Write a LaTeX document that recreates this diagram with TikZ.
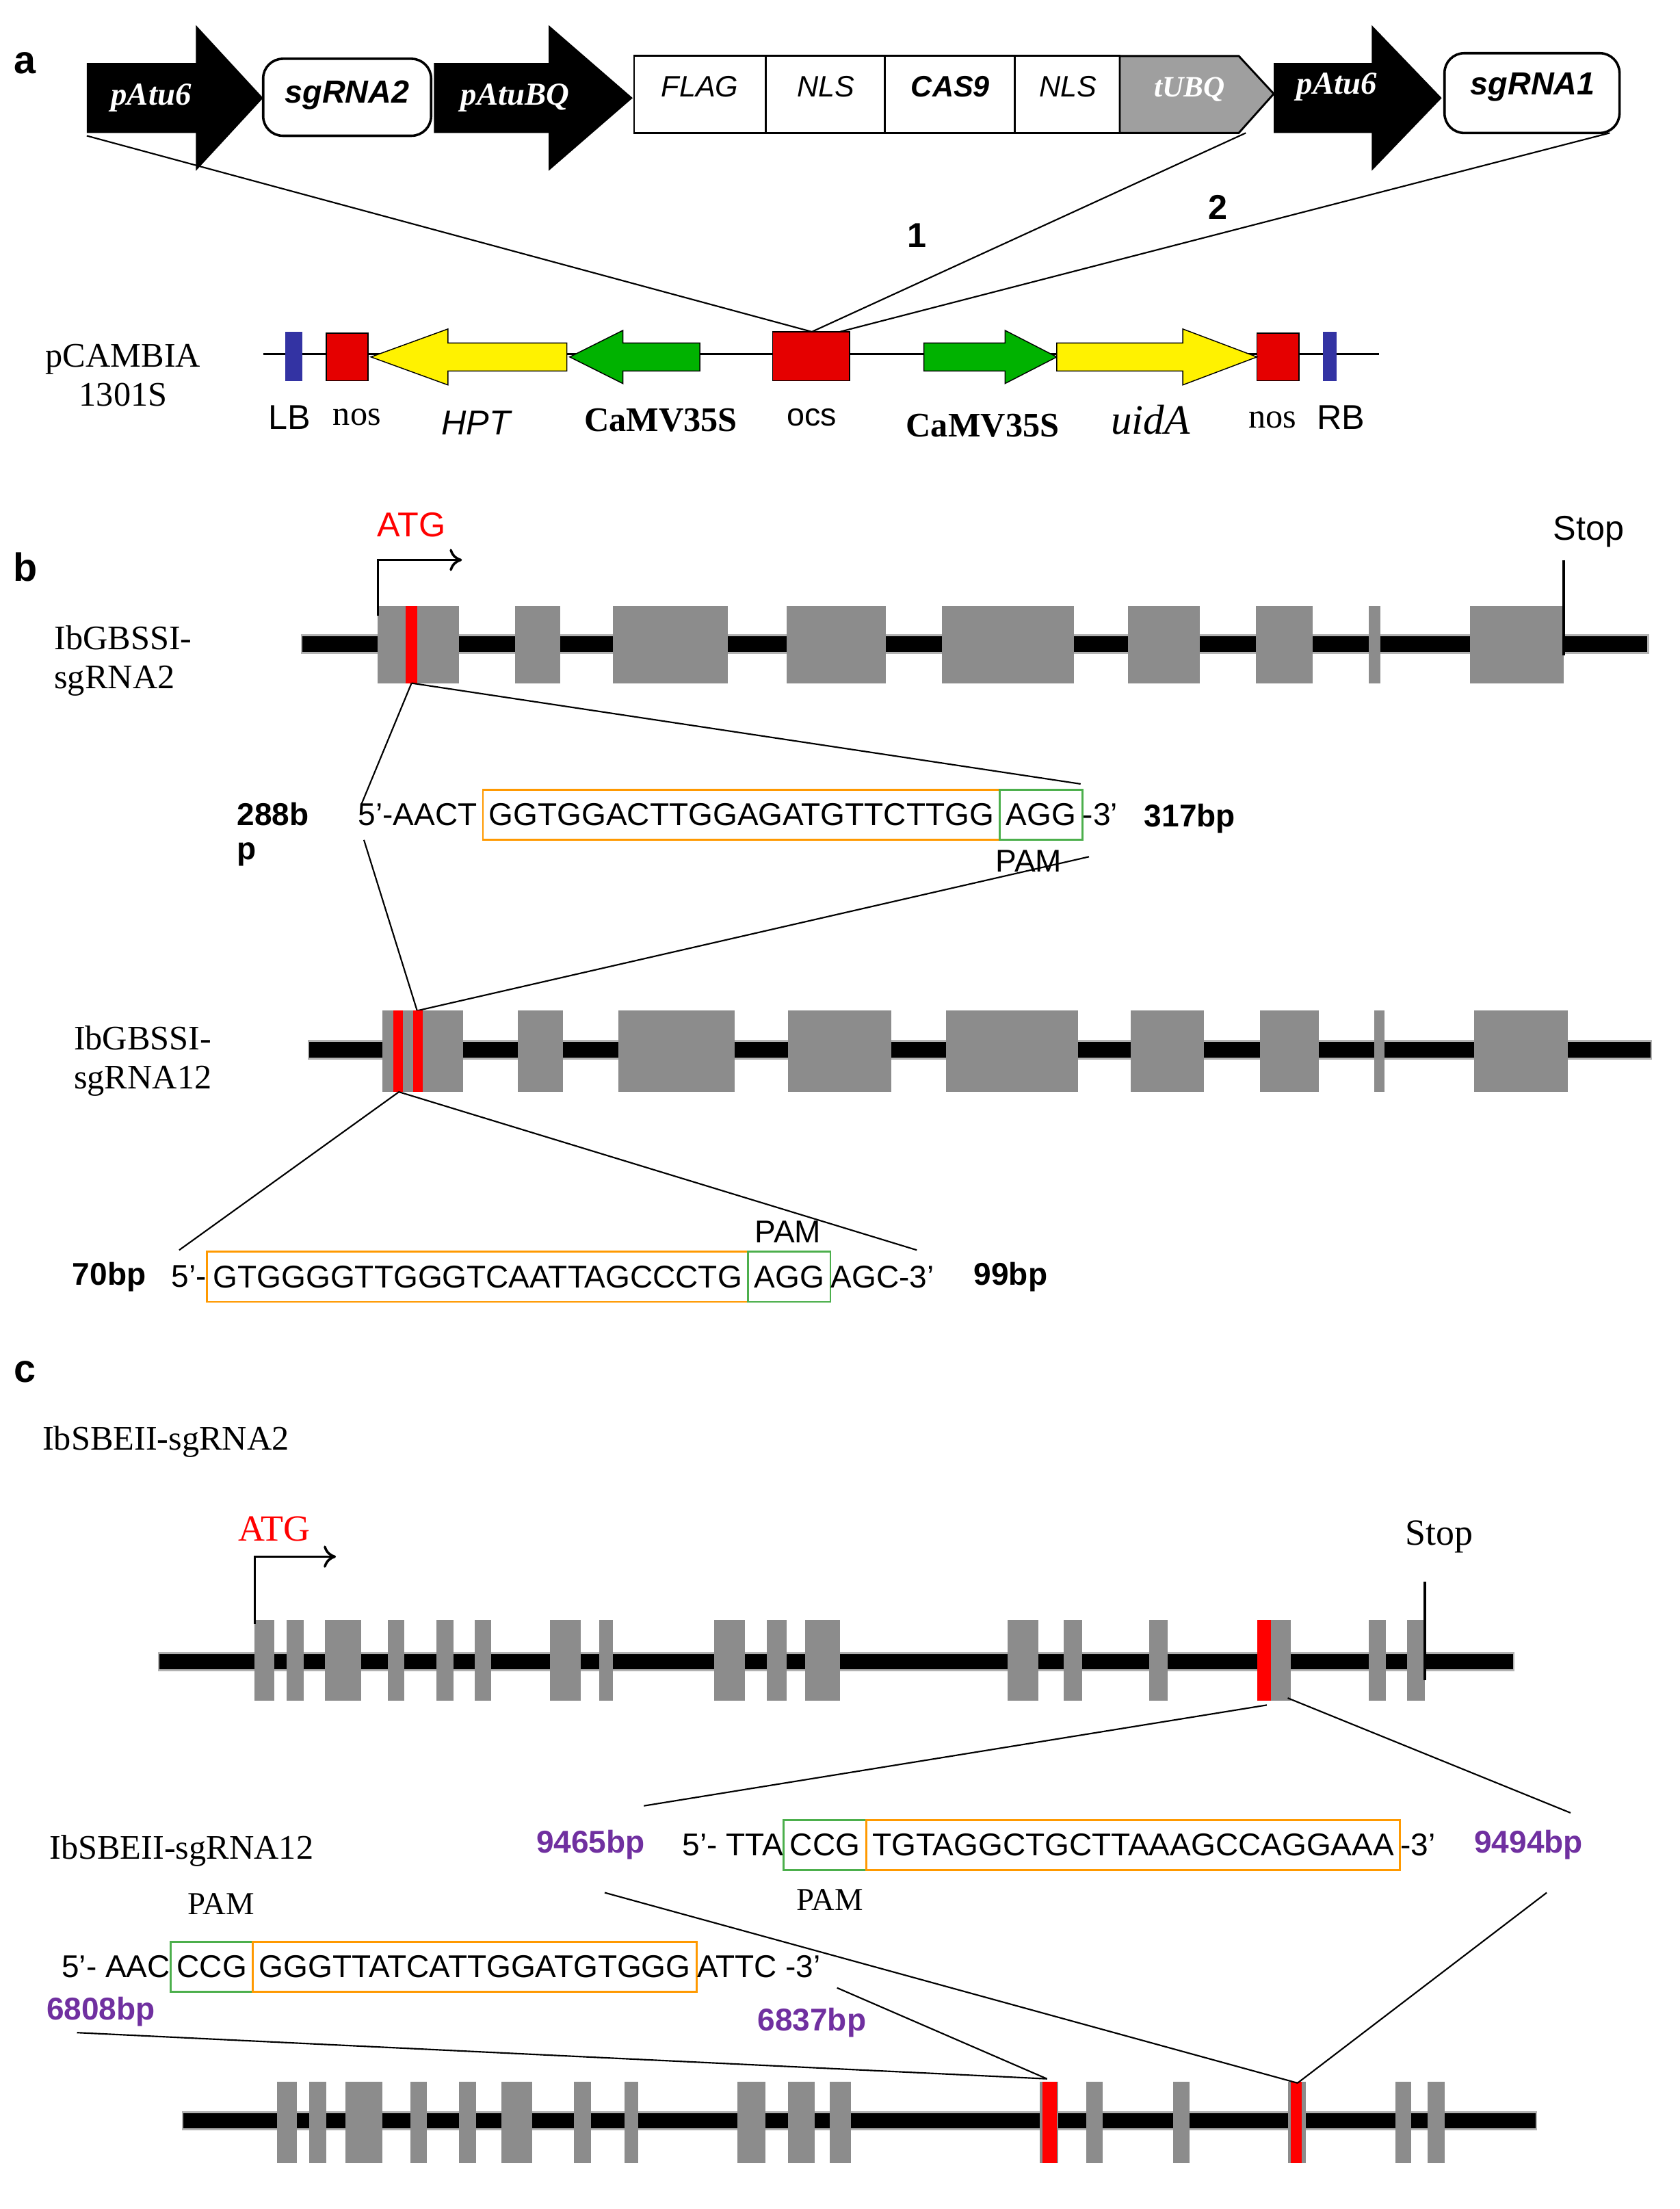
\documentclass[tikz,border=0pt]{standalone}
\usepackage{fontspec}
\usetikzlibrary{arrows.meta}
\setmainfont{Liberation Serif}
\setsansfont{Liberation Sans}
\definecolor{bpurple}{HTML}{7030A0}
\begin{document}
\begin{tikzpicture}[x=0.02cm,y=-0.02cm,
 sf/.style={font=\fontsize{12.8}{14}\sffamily,inner sep=0pt},
 rm/.style={font=\fontsize{14}{16}\rmfamily,inner sep=0pt,align=left},
 lbl/.style={font=\fontsize{16}{18}\sffamily\bfseries,inner sep=0pt},
 bp/.style={font=\fontsize{12.8}{14}\sffamily\bfseries,inner sep=0pt},
 pbp/.style={bp,text=bpurple},
 obox/.style={sf,draw=orange!80!yellow,thick,inner sep=2.5pt,outer sep=0pt,minimum height=0.72cm},
 gbox/.style={sf,draw=green!55!black!70,thick,inner sep=2.5pt,outer sep=0pt,minimum height=0.72cm},
 exon/.style={fill=gray!90},
 gl/.style={line width=0.28cm,draw=gray!60},
 gli/.style={line width=0.22cm,draw=black},
 ln/.style={draw=black,line width=0.6pt},
 tss/.style={line width=1pt,-{To[length=5pt,width=9pt]}}]
\useasboundingbox (0,0) rectangle (1200,1578);
% ---------- a ----------
\node[lbl] (la) at (18,45) {a};
\newcommand{\blockarrow}[3]{\fill[black] (#1,45) -- (#2,45) -- (#2,18) -- (#3,70) -- (#2,122) -- (#2,95) -- (#1,95) -- cycle;}
\blockarrow{62}{140}{188}
\node[font=\fontsize{13}{15}\rmfamily\bfseries\itshape,text=white] (p1) at (108,70) {pAtu6};
\draw[line width=1pt,rounded corners=8pt] (188,42) rectangle (308,97);
\node[font=\fontsize{13}{15}\sffamily\bfseries\itshape] (s2) at (248,68) {sgRNA2};
\blockarrow{310}{392}{452}
\node[font=\fontsize{13}{15}\rmfamily\bfseries\itshape,text=white] (p2) at (368,70) {pAtuBQ};
\draw[line width=0.8pt] (453,40) rectangle (800,95);
\foreach \xx in {547,632,725} \draw[line width=0.8pt] (\xx,40) -- (\xx,95);
\node[font=\fontsize{12}{14}\sffamily\itshape] at (500,62) {FLAG};
\node[font=\fontsize{12}{14}\sffamily\itshape] at (590,62) {NLS};
\node[font=\fontsize{12}{14}\sffamily\bfseries\itshape] at (679,62) {CAS9};
\node[font=\fontsize{12}{14}\sffamily\itshape] at (763,62) {NLS};
\draw[fill=gray!75,line width=0.8pt] (800,40) -- (885,40) -- (910,67) -- (885,95) -- (800,95) -- cycle;
\node[font=\fontsize{12}{14}\rmfamily\bfseries\itshape,text=white] (tu) at (850,64) {tUBQ};
\blockarrow{910}{980}{1030}
\node[font=\fontsize{13}{15}\rmfamily\bfseries\itshape,text=white] (p3) at (955,62) {pAtu6};
\draw[line width=1pt,rounded corners=8pt] (1032,38) rectangle (1157,95);
\node[font=\fontsize{13}{15}\sffamily\bfseries\itshape] (s1) at (1095,62) {sgRNA1};
% plasmid
\draw[line width=0.8pt] (188,253) -- (985,253);
\fill[blue!55!black!80] (204,237) rectangle (216,272);
\fill[blue!55!black!80] (945,237) rectangle (955,272);
\draw[fill=red!90!black] (233,238) rectangle (263,272);
\draw[fill=red!90!black] (898,238) rectangle (928,272);
\draw[fill=red!90!black] (552,237) rectangle (607,272);
\draw[fill=yellow] (405,245) -- (320,245) -- (320,235) -- (265,255) -- (320,275) -- (320,265) -- (405,265) -- cycle;
\draw[fill=green!70!black] (500,245) -- (445,245) -- (445,236) -- (407,255) -- (445,274) -- (445,265) -- (500,265) -- cycle;
\draw[fill=green!70!black] (660,245) -- (718,245) -- (718,236) -- (755,255) -- (718,274) -- (718,265) -- (660,265) -- cycle;
\draw[fill=yellow] (755,245) -- (845,245) -- (845,235) -- (898,255) -- (845,275) -- (845,265) -- (755,265) -- cycle;
\coordinate (ocs) at (580,237);
\coordinate (ocs2) at (600,237);
\draw[ln] (62,97) -- (ocs);
\draw[ln] (890,95) -- (ocs);
\draw[ln] (1150,95) -- (ocs2);
\node[font=\fontsize{14}{16}\sffamily\bfseries] at (655,168) {1};
\node[font=\fontsize{14}{16}\sffamily\bfseries] at (870,148) {2};
\node[rm,align=center] at (88,268) {pCAMBIA\\1301S};
\node[font=\fontsize{14}{16}\sffamily] at (207,298) {LB};
\node[font=\fontsize{14}{16}\rmfamily] at (255,298) {nos};
\node[font=\fontsize{14}{16}\sffamily\itshape] at (340,302) {HPT};
\node[font=\fontsize{14}{16}\rmfamily\bfseries] at (472,300) {CaMV35S};
\node[font=\fontsize{13}{15}\sffamily] at (580,298) {ocs};
\node[font=\fontsize{14}{16}\rmfamily\bfseries] at (702,304) {CaMV35S};
\node[font=\fontsize{17}{19}\rmfamily\itshape] at (822,300) {uidA};
\node[font=\fontsize{14}{16}\rmfamily] at (909,300) {nos};
\node[font=\fontsize{14}{16}\sffamily] at (958,298) {RB};
% ---------- b ----------
\node[lbl] (lb) at (18,405) {b};
\draw[gl] (215,460) -- (1178,460); \draw[gli] (216,460) -- (1177,460);
\foreach \a/\b in {270/328,368/400,438/520,562/633,673/767,806/857,897/938,978/986,1050/1117}
  \fill[exon] (\a,433) rectangle (\b,488);
\fill[red] (290,433) rectangle (298,488);
\draw[tss] (270,440) -- (270,400) -- (330,400);
\node[font=\fontsize{14}{16}\sffamily,text=red] at (294,375) {ATG};
\draw[line width=1pt] (1117,400) -- (1117,468);
\node[font=\fontsize{14}{16}\sffamily] at (1135,380) {Stop};
\node[rm] at (88,472) {IbGBSSI-\\sgRNA2};
\node[sf,anchor=east] (pre1) at (345,582) {5'-AACT\,};
\node[obox,anchor=west] (ob1) at (345,582) {GGTGGACTTGGAGATGTTCTTGG};
\node[gbox,anchor=west] (gb1) at (ob1.east) {AGG};
\node[sf,anchor=west] (post1) at (gb1.east) {-3'};
\node[sf] at (735,615) {PAM};
\node[bp,align=left] at (195,596) {288b\\p};
\node[bp] at (850,585) {317bp};
\coordinate (r1) at (294,488);
\draw[ln] (r1) -- (258,575); \draw[ln] (r1) -- (772,560);
\coordinate (r2) at (298,722);
\draw[ln] (260,600) -- (r2); \draw[ln] (778,612) -- (r2);
\draw[gl] (220,750) -- (1180,750); \draw[gli] (221,750) -- (1179,750);
\foreach \a/\b in {273/331,370/402,442/525,563/637,676/770,808/860,900/942,982/989,1053/1120}
  \fill[exon] (\a,722) rectangle (\b,780);
\fill[red] (281,722) rectangle (288,780);
\fill[red] (295,722) rectangle (302,780);
\node[rm] at (102,758) {IbGBSSI-\\sgRNA12};
\node[sf,anchor=east] (pre2) at (148,912) {5'-};
\node[obox,anchor=west] (ob2) at (148,912) {GTGGGGTTGGGTCAATTAGCCCTG};
\node[gbox,anchor=west] (gb2) at (ob2.east) {AGG};
\node[sf,anchor=west] (post2) at (gb2.east) {AGC-3'};
\node[sf] at (563,880) {PAM};
\node[bp] at (78,912) {70bp};
\node[bp] at (722,912) {99bp};
\coordinate (r3) at (285,780);
\draw[ln] (r3) -- (128,893); \draw[ln] (r3) -- (655,893);
% ---------- c ----------
\node[lbl] (lc) at (18,980) {c};
\node[rm,anchor=west] at (30,1030) {IbSBEII-sgRNA2};
\draw[gl] (113,1187) -- (1082,1187); \draw[gli] (114,1187) -- (1081,1187);
\foreach \a/\b in {182/196,205/217,232/258,277/289,312/324,339/351,393/415,428/438,510/532,548/562,575/600,720/742,760/773,821/834,898/922,978/990,1005/1018}
  \fill[exon] (\a,1157) rectangle (\b,1215);
\fill[red] (898,1157) rectangle (908,1215);
\draw[tss] (182,1160) -- (182,1112) -- (240,1112);
\node[font=\fontsize{15}{17}\rmfamily,text=red] at (196,1092) {ATG};
\draw[line width=1pt] (1018,1130) -- (1018,1200);
\node[font=\fontsize{15}{17}\rmfamily] at (1028,1098) {Stop};
\coordinate (r4) at (905,1218);
\coordinate (r4b) at (920,1213);
\draw[ln] (r4) -- (460,1290); \draw[ln] (r4b) -- (1122,1295);
\node[sf,anchor=east] (pre3) at (560,1318) {5'- TTA};
\node[gbox,anchor=west] (gb3) at (560,1318) {CCG};
\node[obox,anchor=west] (ob3) at (gb3.east) {TGTAGGCTGCTTAAAGCCAGGAAA};
\node[sf,anchor=west] (post3) at (ob3.east) {-3'};
\node[font=\fontsize{13}{15}\rmfamily] at (593,1357) {PAM};
\node[pbp] at (422,1318) {9465bp};
\node[pbp] at (1092,1318) {9494bp};
\node[rm,anchor=west] at (35,1322) {IbSBEII-sgRNA12};
\node[font=\fontsize{13}{15}\rmfamily] at (158,1360) {PAM};
\node[sf,anchor=east] (pre4) at (122,1405) {5'- AAC};
\node[gbox,anchor=west] (gb4) at (122,1405) {CCG};
\node[obox,anchor=west] (ob4) at (gb4.east) {GGGTTATCATTGGATGTGGG};
\node[sf,anchor=west] (post4) at (ob4.east) {ATTC -3'};
\node[pbp] at (72,1437) {6808bp};
\node[pbp] at (580,1445) {6837bp};
\draw[gl] (130,1515) -- (1098,1515); \draw[gli] (131,1515) -- (1097,1515);
\foreach \a/\b in {198/212,221/233,247/273,293/305,328/340,358/380,410/422,446/456,527/547,563/582,593/608,743/756,776/788,838/850,920/933,997/1008,1020/1032}
  \fill[exon] (\a,1487) rectangle (\b,1545);
\fill[red] (745,1487) rectangle (755,1545);
\fill[red] (922,1487) rectangle (930,1545);
\coordinate (r5) at (748,1485);
\coordinate (r6) at (927,1488);
\draw[ln] (55,1452) -- (r5); \draw[ln] (598,1420) -- (r5);
\draw[ln] (432,1352) -- (r6); \draw[ln] (1105,1352) -- (r6);
\end{tikzpicture}
\end{document}
